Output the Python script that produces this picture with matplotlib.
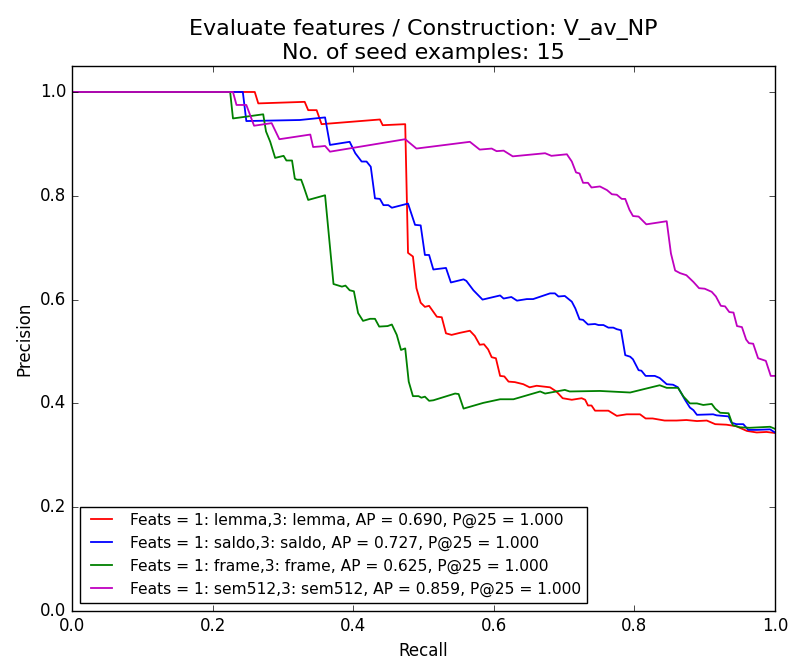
import matplotlib
matplotlib.use("Agg")
import matplotlib.pyplot as plt

plt.style.use("classic")

# recall / precision values
lemma_r = [0.0, 0.260, 0.265, 0.331, 0.336, 0.348, 0.355, 0.438, 0.442, 0.474, 0.478,
           0.485, 0.490, 0.496, 0.502, 0.508, 0.519, 0.526, 0.532, 0.540, 0.552, 0.566,
           0.573, 0.580, 0.586, 0.592, 0.597, 0.603, 0.609, 0.615, 0.621, 0.630, 0.642,
           0.651, 0.661, 0.680, 0.689, 0.698, 0.711, 0.725, 0.730, 0.734, 0.739, 0.744,
           0.763, 0.775, 0.789, 0.808, 0.816, 0.826, 0.843, 0.860, 0.874, 0.889, 0.903,
           0.915, 0.931, 0.945, 0.960, 0.974, 0.988, 1.0]
lemma_p = [1.0, 1.0, 0.978, 0.981, 0.965, 0.965, 0.938, 0.947, 0.936, 0.938, 0.690,
           0.683, 0.622, 0.594, 0.586, 0.588, 0.567, 0.566, 0.535, 0.532, 0.536, 0.540,
           0.530, 0.513, 0.514, 0.504, 0.489, 0.487, 0.453, 0.452, 0.442, 0.441, 0.437,
           0.431, 0.434, 0.431, 0.423, 0.410, 0.407, 0.410, 0.407, 0.396, 0.396, 0.386,
           0.386, 0.376, 0.379, 0.379, 0.371, 0.371, 0.367, 0.367, 0.368, 0.366, 0.367,
           0.360, 0.359, 0.356, 0.347, 0.344, 0.345, 0.343]

saldo_r = [0.0, 0.243, 0.248, 0.324, 0.360, 0.367, 0.395, 0.403, 0.412, 0.419, 0.425,
           0.431, 0.438, 0.443, 0.450, 0.455, 0.478, 0.488, 0.496, 0.502, 0.508, 0.514,
           0.532, 0.539, 0.557, 0.561, 0.571, 0.584, 0.609, 0.614, 0.625, 0.633, 0.647,
           0.656, 0.680, 0.687, 0.692, 0.701, 0.711, 0.716, 0.722, 0.727, 0.734, 0.744,
           0.749, 0.756, 0.763, 0.770, 0.775, 0.781, 0.787, 0.794, 0.798, 0.806, 0.810,
           0.816, 0.829, 0.836, 0.846, 0.855, 0.862, 0.872, 0.879, 0.884, 0.889, 0.912,
           0.917, 0.934, 0.938, 0.945, 0.955, 0.962, 0.974, 0.993, 1.0]
saldo_p = [1.0, 1.0, 0.944, 0.946, 0.951, 0.898, 0.904, 0.882, 0.866, 0.866, 0.856,
           0.795, 0.794, 0.782, 0.782, 0.777, 0.785, 0.744, 0.743, 0.686, 0.686, 0.658,
           0.661, 0.633, 0.639, 0.636, 0.618, 0.600, 0.608, 0.602, 0.605, 0.598, 0.601,
           0.601, 0.612, 0.612, 0.606, 0.607, 0.596, 0.583, 0.562, 0.561, 0.552, 0.553,
           0.551, 0.551, 0.546, 0.546, 0.543, 0.541, 0.493, 0.490, 0.485, 0.464, 0.463,
           0.453, 0.453, 0.449, 0.437, 0.436, 0.431, 0.407, 0.392, 0.387, 0.378, 0.379,
           0.377, 0.375, 0.363, 0.360, 0.360, 0.349, 0.349, 0.350, 0.344]

frame_r = [0.0, 0.225, 0.229, 0.272, 0.276, 0.282, 0.289, 0.301, 0.305, 0.313, 0.317,
           0.320, 0.326, 0.329, 0.336, 0.360, 0.372, 0.384, 0.389, 0.395, 0.401, 0.407,
           0.414, 0.424, 0.431, 0.437, 0.449, 0.455, 0.462, 0.468, 0.474, 0.479, 0.485,
           0.493, 0.497, 0.502, 0.508, 0.514, 0.545, 0.550, 0.557, 0.585, 0.609, 0.628,
           0.666, 0.673, 0.701, 0.708, 0.751, 0.794, 0.836, 0.846, 0.862, 0.870, 0.879,
           0.889, 0.898, 0.910, 0.915, 0.922, 0.934, 0.940, 0.950, 0.964, 0.993, 1.0]
frame_p = [1.0, 1.0, 0.949, 0.957, 0.924, 0.904, 0.873, 0.877, 0.868, 0.868, 0.833,
           0.831, 0.831, 0.820, 0.792, 0.801, 0.630, 0.625, 0.627, 0.618, 0.616, 0.574,
           0.559, 0.563, 0.563, 0.548, 0.549, 0.552, 0.532, 0.503, 0.506, 0.442, 0.414,
           0.414, 0.411, 0.413, 0.405, 0.406, 0.419, 0.418, 0.390, 0.401, 0.408, 0.408,
           0.423, 0.419, 0.426, 0.423, 0.424, 0.421, 0.435, 0.430, 0.430, 0.413, 0.400,
           0.400, 0.397, 0.399, 0.390, 0.382, 0.381, 0.358, 0.354, 0.353, 0.355, 0.351]

sem_r = [0.0, 0.229, 0.234, 0.248, 0.259, 0.284, 0.295, 0.339, 0.343, 0.353, 0.360,
         0.367, 0.474, 0.490, 0.566, 0.580, 0.597, 0.604, 0.614, 0.627, 0.673, 0.682,
         0.704, 0.711, 0.717, 0.722, 0.727, 0.734, 0.739, 0.751, 0.761, 0.768, 0.775,
         0.782, 0.787, 0.793, 0.798, 0.806, 0.817, 0.846, 0.852, 0.858, 0.865, 0.874,
         0.884, 0.892, 0.900, 0.910, 0.916, 0.923, 0.929, 0.935, 0.941, 0.946, 0.953,
         0.959, 0.963, 0.969, 0.976, 0.987, 0.994, 1.0]
sem_p = [1.0, 1.0, 0.975, 0.975, 0.935, 0.940, 0.909, 0.918, 0.894, 0.895, 0.896,
         0.885, 0.909, 0.891, 0.904, 0.889, 0.891, 0.886, 0.887, 0.876, 0.882, 0.877,
         0.880, 0.866, 0.845, 0.843, 0.825, 0.825, 0.816, 0.818, 0.811, 0.803, 0.802,
         0.794, 0.794, 0.773, 0.761, 0.760, 0.745, 0.751, 0.689, 0.656, 0.651, 0.647,
         0.634, 0.622, 0.621, 0.615, 0.606, 0.588, 0.587, 0.576, 0.575, 0.549, 0.547,
         0.523, 0.516, 0.515, 0.487, 0.482, 0.453, 0.453]

labels = [
    "Feats = 1: lemma,3: lemma, AP = 0.690, P@25 = 1.000",
    "Feats = 1: saldo,3: saldo, AP = 0.727, P@25 = 1.000",
    "Feats = 1: frame,3: frame, AP = 0.625, P@25 = 1.000",
    "Feats = 1: sem512,3: sem512, AP = 0.859, P@25 = 1.000",
]

fig = plt.figure(figsize=(7.92, 6.59), dpi=100)
fig.patch.set_facecolor("white")
ax = fig.add_axes([0.0909, 0.0728, 0.8876, 0.827])

ax.plot(lemma_r, lemma_p, color="r", lw=1.3, label=labels[0])
ax.plot(saldo_r, saldo_p, color="b", lw=1.3, label=labels[1])
ax.plot(frame_r, frame_p, color="g", lw=1.3, label=labels[2])
ax.plot(sem_r, sem_p, color="m", lw=1.3, label=labels[3])

ax.set_xlim(0, 1)
ax.set_ylim(0, 1.05)
ax.set_xticks([0.0, 0.2, 0.4, 0.6, 0.8, 1.0])
ax.set_yticks([0.0, 0.2, 0.4, 0.6, 0.8, 1.0])
ax.set_xlabel("Recall")
ax.set_ylabel("Precision")
ax.set_title("Evaluate features / Construction: V_av_NP\nNo. of seed examples: 15", fontsize=16)
ax.legend(loc="lower left", fontsize=11.2)

fig.savefig("out.png", dpi=100, facecolor="white")
